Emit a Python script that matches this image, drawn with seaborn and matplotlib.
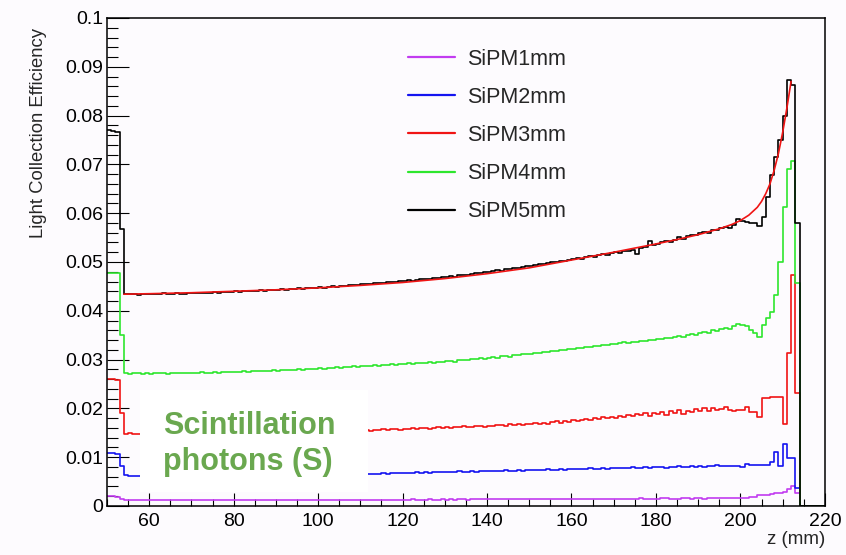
import numpy as np
import pandas as pd
import matplotlib
matplotlib.use("Agg")
import matplotlib.pyplot as plt
from matplotlib.lines import Line2D
from matplotlib.patches import Rectangle
from matplotlib.ticker import MultipleLocator
import seaborn as sns

# ---------------------------------------------------------------------------
# Light collection efficiency vs. z position, 1 mm bins starting at z = 50 mm.
# Each list holds the bins 50..213 mm; the bins 214..219 mm are empty.
# ---------------------------------------------------------------------------
z_first_edge = 50.0
z_last_edge = 220.0
bin_width = 1.0
empty_tail = [0.0, 0.0, 0.0, 0.0, 0.0, 0.0]

eff_1mm = [
    0.0020, 0.0020, 0.0018, 0.0014,
    0.0012, 0.0012, 0.0012, 0.0012, 0.0012, 0.0012,
    0.0012, 0.0012, 0.0012, 0.0012, 0.0012, 0.0012, 0.0012, 0.0012, 0.0012, 0.0012,
    0.0012, 0.0012, 0.0012, 0.0012, 0.0012, 0.0012, 0.0012, 0.0012, 0.0012, 0.0012,
    0.0012, 0.0012, 0.0013, 0.0012, 0.0012, 0.0012, 0.0013, 0.0012, 0.0012, 0.0012,
    0.0012, 0.0013, 0.0012, 0.0012, 0.0013, 0.0012, 0.0013, 0.0012, 0.0013, 0.0013,
    0.0013, 0.0013, 0.0013, 0.0012, 0.0013, 0.0013, 0.0013, 0.0013, 0.0013, 0.0013,
    0.0013, 0.0013, 0.0013, 0.0013, 0.0013, 0.0013, 0.0013, 0.0013, 0.0013, 0.0013,
    0.0013, 0.0013, 0.0014, 0.0013, 0.0013, 0.0013, 0.0014, 0.0013, 0.0013, 0.0014,
    0.0013, 0.0014, 0.0013, 0.0014, 0.0014, 0.0013, 0.0014, 0.0014, 0.0014, 0.0014,
    0.0014, 0.0014, 0.0014, 0.0014, 0.0014, 0.0014, 0.0014, 0.0014, 0.0014, 0.0014,
    0.0014, 0.0015, 0.0014, 0.0014, 0.0015, 0.0014, 0.0014, 0.0015, 0.0015, 0.0014,
    0.0015, 0.0014, 0.0015, 0.0015, 0.0014, 0.0015, 0.0015, 0.0015, 0.0014, 0.0015,
    0.0015, 0.0015, 0.0015, 0.0015, 0.0015, 0.0015, 0.0016, 0.0015, 0.0015, 0.0015,
    0.0015, 0.0016, 0.0016, 0.0015, 0.0014, 0.0015, 0.0016, 0.0016, 0.0015, 0.0016,
    0.0016, 0.0015, 0.0016, 0.0016, 0.0017, 0.0016, 0.0016, 0.0017, 0.0016, 0.0016,
    0.0016, 0.0016, 0.0019, 0.0019, 0.0023, 0.0023, 0.0023, 0.0025, 0.0027, 0.0027,
    0.0029, 0.0034, 0.0041, 0.0027,
]

eff_2mm = [
    0.0108, 0.0108, 0.0107, 0.0081,
    0.0064, 0.0062, 0.0061, 0.0062, 0.0063, 0.0062,
    0.0062, 0.0063, 0.0062, 0.0063, 0.0062, 0.0063, 0.0063, 0.0062, 0.0063, 0.0063,
    0.0063, 0.0064, 0.0063, 0.0063, 0.0064, 0.0063, 0.0064, 0.0064, 0.0063, 0.0064,
    0.0064, 0.0064, 0.0065, 0.0064, 0.0064, 0.0065, 0.0064, 0.0065, 0.0065, 0.0064,
    0.0065, 0.0065, 0.0066, 0.0065, 0.0065, 0.0066, 0.0065, 0.0066, 0.0066, 0.0065,
    0.0066, 0.0066, 0.0067, 0.0066, 0.0066, 0.0067, 0.0066, 0.0067, 0.0067, 0.0066,
    0.0064, 0.0065, 0.0066, 0.0065, 0.0066, 0.0067, 0.0066, 0.0067, 0.0068, 0.0067,
    0.0068, 0.0067, 0.0068, 0.0069, 0.0068, 0.0069, 0.0068, 0.0069, 0.0070, 0.0069,
    0.0069, 0.0070, 0.0069, 0.0071, 0.0070, 0.0070, 0.0071, 0.0070, 0.0072, 0.0071,
    0.0071, 0.0072, 0.0071, 0.0072, 0.0073, 0.0072, 0.0072, 0.0073, 0.0072, 0.0074,
    0.0073, 0.0073, 0.0074, 0.0073, 0.0075, 0.0074, 0.0074, 0.0075, 0.0074, 0.0076,
    0.0075, 0.0075, 0.0076, 0.0075, 0.0077, 0.0076, 0.0076, 0.0077, 0.0076, 0.0078,
    0.0077, 0.0077, 0.0078, 0.0077, 0.0079, 0.0078, 0.0078, 0.0079, 0.0078, 0.0080,
    0.0079, 0.0079, 0.0078, 0.0080, 0.0079, 0.0081, 0.0080, 0.0079, 0.0082, 0.0080,
    0.0081, 0.0080, 0.0082, 0.0081, 0.0083, 0.0081, 0.0082, 0.0081, 0.0082, 0.0081,
    0.0080, 0.0087, 0.0083, 0.0084, 0.0083, 0.0083, 0.0084, 0.0091, 0.0111, 0.0081,
    0.0128, 0.0098, 0.0098, 0.0036,
]

eff_3mm = [
    0.0260, 0.0260, 0.0259, 0.0190,
    0.0147, 0.0149, 0.0147, 0.0148, 0.0147, 0.0148,
    0.0148, 0.0147, 0.0148, 0.0148, 0.0147, 0.0148, 0.0149, 0.0148, 0.0148, 0.0149,
    0.0148, 0.0149, 0.0149, 0.0150, 0.0149, 0.0150, 0.0149, 0.0150, 0.0150, 0.0151,
    0.0150, 0.0151, 0.0151, 0.0150, 0.0152, 0.0151, 0.0152, 0.0151, 0.0152, 0.0153,
    0.0152, 0.0153, 0.0152, 0.0153, 0.0154, 0.0153, 0.0154, 0.0153, 0.0155, 0.0154,
    0.0155, 0.0154, 0.0155, 0.0156, 0.0155, 0.0156, 0.0155, 0.0157, 0.0156, 0.0155,
    0.0154, 0.0155, 0.0154, 0.0156, 0.0155, 0.0157, 0.0156, 0.0157, 0.0158, 0.0156,
    0.0158, 0.0157, 0.0159, 0.0158, 0.0160, 0.0159, 0.0158, 0.0160, 0.0161, 0.0160,
    0.0161, 0.0160, 0.0162, 0.0161, 0.0163, 0.0162, 0.0161, 0.0163, 0.0164, 0.0162,
    0.0164, 0.0163, 0.0165, 0.0166, 0.0164, 0.0167, 0.0165, 0.0168, 0.0166, 0.0169,
    0.0167, 0.0170, 0.0168, 0.0171, 0.0169, 0.0172, 0.0174, 0.0171, 0.0175, 0.0173,
    0.0176, 0.0174, 0.0177, 0.0179, 0.0176, 0.0180, 0.0178, 0.0182, 0.0180, 0.0183,
    0.0181, 0.0185, 0.0183, 0.0187, 0.0184, 0.0188, 0.0186, 0.0190, 0.0185, 0.0191,
    0.0188, 0.0192, 0.0187, 0.0194, 0.0190, 0.0196, 0.0189, 0.0195, 0.0193, 0.0198,
    0.0194, 0.0200, 0.0195, 0.0201, 0.0196, 0.0199, 0.0203, 0.0197, 0.0195, 0.0197,
    0.0197, 0.0203, 0.0193, 0.0193, 0.0183, 0.0221, 0.0221, 0.0224, 0.0224, 0.0224,
    0.0168, 0.0314, 0.0473, 0.0231,
]

eff_4mm = [
    0.0478, 0.0478, 0.0477, 0.0351,
    0.0272, 0.0271, 0.0273, 0.0272, 0.0271, 0.0272,
    0.0271, 0.0272, 0.0273, 0.0272, 0.0271, 0.0272, 0.0273, 0.0272, 0.0272, 0.0273,
    0.0272, 0.0273, 0.0274, 0.0273, 0.0273, 0.0274, 0.0273, 0.0274, 0.0275, 0.0274,
    0.0274, 0.0275, 0.0276, 0.0275, 0.0276, 0.0277, 0.0276, 0.0277, 0.0276, 0.0278,
    0.0277, 0.0278, 0.0279, 0.0278, 0.0279, 0.0280, 0.0279, 0.0281, 0.0280, 0.0281,
    0.0282, 0.0281, 0.0283, 0.0282, 0.0284, 0.0283, 0.0285, 0.0284, 0.0286, 0.0285,
    0.0286, 0.0287, 0.0286, 0.0288, 0.0287, 0.0289, 0.0288, 0.0290, 0.0289, 0.0291,
    0.0290, 0.0292, 0.0291, 0.0293, 0.0294, 0.0292, 0.0295, 0.0294, 0.0296, 0.0295,
    0.0297, 0.0298, 0.0296, 0.0299, 0.0300, 0.0299, 0.0302, 0.0301, 0.0303, 0.0302,
    0.0304, 0.0306, 0.0304, 0.0307, 0.0308, 0.0306, 0.0310, 0.0309, 0.0311, 0.0312,
    0.0311, 0.0314, 0.0313, 0.0316, 0.0315, 0.0318, 0.0317, 0.0320, 0.0319, 0.0322,
    0.0321, 0.0324, 0.0323, 0.0326, 0.0325, 0.0328, 0.0327, 0.0330, 0.0329, 0.0332,
    0.0331, 0.0334, 0.0336, 0.0333, 0.0337, 0.0336, 0.0339, 0.0338, 0.0341, 0.0340,
    0.0343, 0.0342, 0.0345, 0.0344, 0.0347, 0.0349, 0.0347, 0.0351, 0.0353, 0.0351,
    0.0355, 0.0357, 0.0355, 0.0360, 0.0358, 0.0362, 0.0365, 0.0363, 0.0368, 0.0372,
    0.0371, 0.0368, 0.0360, 0.0355, 0.0347, 0.0371, 0.0385, 0.0398, 0.0432, 0.0500,
    0.0613, 0.0690, 0.0706, 0.0456,
]

eff_5mm = [
    0.0770, 0.0768, 0.0766, 0.0567,
    0.0434, 0.0435, 0.0434, 0.0433, 0.0435, 0.0434,
    0.0435, 0.0434, 0.0435, 0.0436, 0.0434, 0.0435, 0.0436, 0.0435, 0.0434, 0.0436,
    0.0436, 0.0437, 0.0436, 0.0437, 0.0436, 0.0438, 0.0437, 0.0438, 0.0439, 0.0438,
    0.0440, 0.0439, 0.0440, 0.0441, 0.0440, 0.0441, 0.0442, 0.0441, 0.0443, 0.0442,
    0.0443, 0.0444, 0.0443, 0.0445, 0.0444, 0.0446, 0.0445, 0.0447, 0.0446, 0.0447,
    0.0448, 0.0447, 0.0449, 0.0450, 0.0449, 0.0451, 0.0450, 0.0452, 0.0453, 0.0452,
    0.0454, 0.0455, 0.0454, 0.0456, 0.0457, 0.0456, 0.0458, 0.0459, 0.0460, 0.0461,
    0.0461, 0.0463, 0.0462, 0.0464, 0.0465, 0.0466, 0.0465, 0.0467, 0.0468, 0.0469,
    0.0470, 0.0471, 0.0470, 0.0473, 0.0474, 0.0473, 0.0476, 0.0477, 0.0478, 0.0479,
    0.0480, 0.0481, 0.0483, 0.0482, 0.0485, 0.0486, 0.0487, 0.0488, 0.0490, 0.0491,
    0.0492, 0.0493, 0.0495, 0.0496, 0.0497, 0.0499, 0.0500, 0.0502, 0.0503, 0.0505,
    0.0506, 0.0508, 0.0507, 0.0510, 0.0512, 0.0511, 0.0514, 0.0516, 0.0515, 0.0518,
    0.0520, 0.0519, 0.0523, 0.0522, 0.0525, 0.0516, 0.0528, 0.0530, 0.0543, 0.0535,
    0.0537, 0.0540, 0.0544, 0.0541, 0.0545, 0.0551, 0.0548, 0.0553, 0.0556, 0.0555,
    0.0560, 0.0562, 0.0560, 0.0566, 0.0565, 0.0569, 0.0572, 0.0570, 0.0575, 0.0588,
    0.0585, 0.0582, 0.0580, 0.0580, 0.0574, 0.0593, 0.0634, 0.0678, 0.0715, 0.0750,
    0.0799, 0.0873, 0.0863, 0.0580,
]

# Fit to the SiPM5mm profile
fit_z = [54, 60, 70, 80, 90, 100, 110, 120, 130, 140, 150, 160, 170, 180, 185,
         190, 195, 198, 200, 202, 204, 205, 206, 207, 208, 209, 210, 211, 212]
fit_eff = [0.0434, 0.0435, 0.0437, 0.0440, 0.0443, 0.0447, 0.0452, 0.0458,
           0.0466, 0.0476, 0.0488, 0.0504, 0.0520, 0.0537, 0.0546, 0.0556,
           0.0568, 0.0577, 0.0585, 0.0596, 0.0612, 0.0624, 0.0640, 0.0660,
           0.0688, 0.0722, 0.0765, 0.0815, 0.0870]

series_labels = ["SiPM1mm", "SiPM2mm", "SiPM3mm", "SiPM4mm", "SiPM5mm"]
series_values = [eff_1mm, eff_2mm, eff_3mm, eff_4mm, eff_5mm]
series_colors = ["#c23cf0", "#1414f0", "#f01414", "#2ee62e", "#000000"]

x_ticks = [60, 80, 100, 120, 140, 160, 180, 200, 220]
y_ticks = [0, 0.01, 0.02, 0.03, 0.04, 0.05, 0.06, 0.07, 0.08, 0.09, 0.1]
y_tick_labels = ["0", "0.01", "0.02", "0.03", "0.04", "0.05", "0.06",
                 "0.07", "0.08", "0.09", "0.1"]

# ---------------------------------------------------------------------------
sns.set_theme(style="ticks")
bg = "#fdfbfe"
plt.rcParams["font.family"] = ["Liberation Sans", "DejaVu Sans"]
plt.rcParams["axes.facecolor"] = bg
plt.rcParams["figure.facecolor"] = bg

fig = plt.figure(figsize=(8.46, 5.55), dpi=100)
ax = fig.add_axes([0.1265, 0.0883, 0.8485, 0.8793])

n_total = len(eff_5mm) + len(empty_tail)
bin_centers = z_first_edge + bin_width * (np.arange(n_total) + 0.5)

for label, vals, color in zip(series_labels, series_values, series_colors):
    df = pd.DataFrame({"z": bin_centers, "eff": list(vals) + empty_tail})
    sns.histplot(data=df, x="z", weights="eff", binwidth=bin_width,
                 binrange=(z_first_edge, z_last_edge),
                 element="step", fill=False, color=color, linewidth=1.2,
                 ax=ax)

sns.lineplot(x=fit_z, y=fit_eff, color="#f01414", linewidth=1.2,
             estimator=None, sort=False, ax=ax)

ax.set_xlim(50, 220)
ax.set_ylim(0, 0.1)
ax.set_xticks(x_ticks)
ax.set_yticks(y_ticks)
ax.set_yticklabels(y_tick_labels)
ax.xaxis.set_minor_locator(MultipleLocator(5))
ax.yaxis.set_minor_locator(MultipleLocator(0.002))

ax.tick_params(axis="both", which="both", direction="in", colors="black",
               width=0.8, labelsize=14)
ax.tick_params(axis="y", which="major", length=15.5, pad=2.5)
ax.tick_params(axis="y", which="minor", length=8)
ax.tick_params(axis="x", which="major", length=9.5, pad=5)
ax.tick_params(axis="x", which="minor", length=5)

for side in ["left", "right", "top", "bottom"]:
    ax.spines[side].set_visible(True)
    ax.spines[side].set_color("black")
    ax.spines[side].set_linewidth(1.1)

ax.set_xlabel("z (mm)", fontsize=13.5, loc="right")
ax.xaxis.set_label_coords(1.0, -0.052)
ax.set_ylabel("Light Collection Efficiency", fontsize=13.3, loc="top")
ax.yaxis.set_label_coords(-0.0836, 0.98)

handles = [Line2D([], [], color=c, linewidth=1.6) for c in series_colors]
ax.legend(handles, series_labels, loc="upper left", frameon=False,
          bbox_to_anchor=(0.407, 0.955), borderaxespad=0, fontsize=15.5,
          handlelength=2.19, handletextpad=0.56, labelspacing=0.80)

# Annotation panel
ax.add_patch(Rectangle((0.046, 0.0287), 0.3175, 0.209, transform=ax.transAxes,
                       facecolor="white", edgecolor="none", zorder=3))
ax.text(0.078, 0.1947, "Scintillation\nphotons (S)", transform=ax.transAxes,
        ha="left", va="top", fontsize=22, fontweight="bold", color="#6aa84f",
        linespacing=1.25, zorder=4)

fig.savefig("out.png", dpi=100, facecolor=bg)
